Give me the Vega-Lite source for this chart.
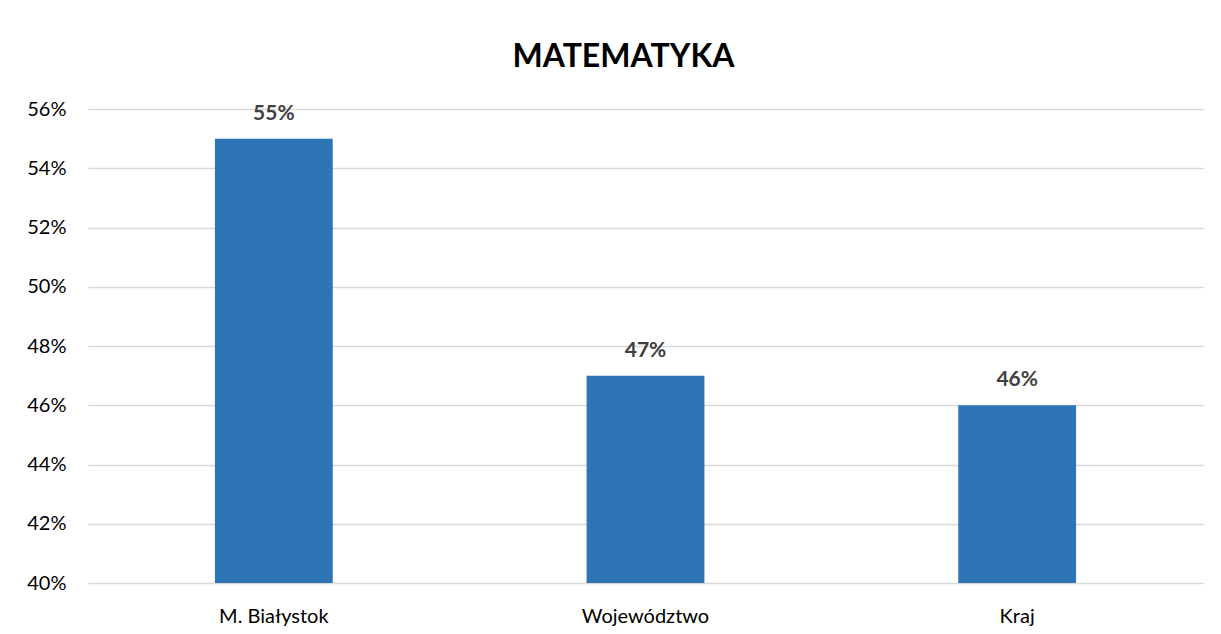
{
  "$schema": "https://vega.github.io/schema/vega-lite/v6.json",
  "autosize": "none",
  "width": 1115,
  "height": 474,
  "padding": {"left": 88, "top": 109, "right": 18, "bottom": 51},
  "background": "white",
  "config": {"view": {"stroke": null}, "font": "Lato"},
  "title": {"text": "MATEMATYKA", "fontSize": 32, "font": "Lato", "fontWeight": "bold", "color": "#000000", "anchor": "middle", "dx": -22, "offset": 25},
  "data": {"values": [
    {"obszar": "M. Białystok", "wynik": 0.55},
    {"obszar": "Województwo", "wynik": 0.47},
    {"obszar": "Kraj", "wynik": 0.46}
  ]},
  "encoding": {
    "x": {"field": "obszar", "type": "nominal", "sort": null,
      "scale": {"paddingInner": 0.683, "paddingOuter": 0.3415},
      "axis": {"title": null, "labelAngle": 0, "labelFontSize": 20, "labelColor": "#000000", "labelPadding": 23, "ticks": false, "domain": false}},
    "y": {"field": "wynik", "type": "quantitative",
      "scale": {"domain": [0.4, 0.56], "nice": false, "zero": false},
      "axis": {"title": null, "format": ".0%", "values": [0.4, 0.42, 0.44, 0.46, 0.48, 0.5, 0.52, 0.54, 0.56], "labelFontSize": 20, "labelColor": "#000000", "labelPadding": 22, "ticks": false, "domain": false, "gridColor": "#d9d9d9", "gridWidth": 1.5}}
  },
  "layer": [
    {"mark": {"type": "bar", "color": "#2E75B6", "clip": true},
      "encoding": {"y2": {"datum": 0.4}}},
    {"mark": {"type": "text", "dy": -19, "baseline": "alphabetic", "fontSize": 21, "fontWeight": "bold", "color": "#404040"},
      "encoding": {"text": {"field": "wynik", "format": ".0%"}}}
  ]
}
